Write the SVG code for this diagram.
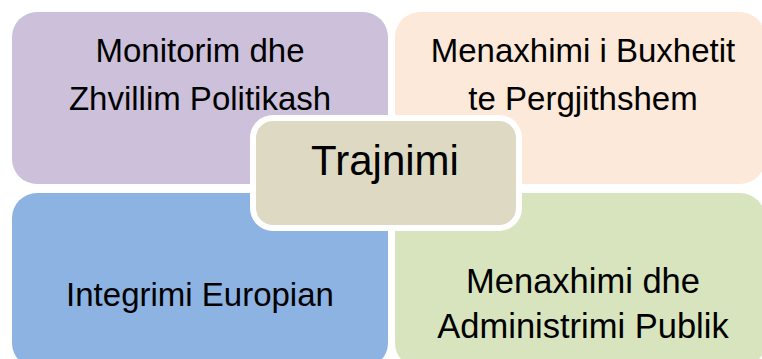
<svg xmlns="http://www.w3.org/2000/svg" width="762" height="359" viewBox="0 0 762 359">
<style>
.q{stroke:none}
.t{font-family:"Liberation Sans",Arial,sans-serif;font-size:33px;fill:#000;text-anchor:middle}
.a{font-size:34.5px}
</style>
<rect width="762" height="359" fill="#fff"/>
<g id="monitorim">
<rect class="q" x="12" y="12" width="376" height="172" rx="25" fill="#CCC0DA"/>
<text class="t" x="200" y="62">Monitorim dhe</text>
<text class="t" x="200" y="110">Zhvillim Politikash</text>
</g>
<g id="buxheti">
<rect class="q" x="395" y="12" width="370" height="172" rx="25" fill="#FDE9D9"/>
<text class="t" x="583" y="62">Menaxhimi i Buxhetit</text>
<text class="t" x="583" y="110">te Pergjithshem</text>
</g>
<g id="integrimi">
<rect class="q" x="12" y="193" width="376" height="175" rx="25" fill="#8DB3E2"/>
<text class="t" x="200" y="306">Integrimi Europian</text>
</g>
<g id="administrimi">
<rect class="q" x="395" y="193" width="370" height="175" rx="25" fill="#D7E4BD"/>
<text class="t a" x="583" y="293">Menaxhimi dhe</text>
<text class="t a" x="583" y="338">Administrimi Publik</text>
</g>
<g id="trajnimi">
<rect x="253" y="118" width="266" height="110" rx="20" fill="#DDD9C3" stroke="#fff" stroke-width="6"/>
<text class="t" x="385" y="175" style="font-size:42px">Trajnimi</text>
</g>
<g id="connectors"/>
</svg>
